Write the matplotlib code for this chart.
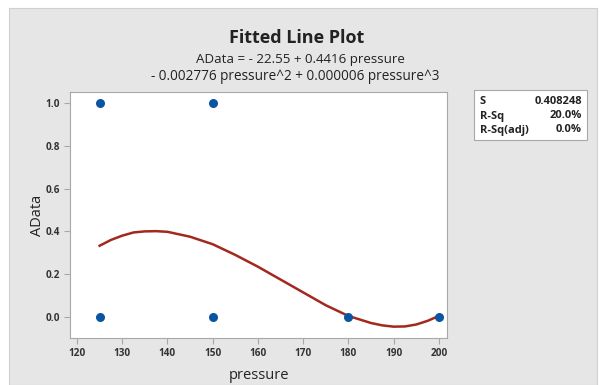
import matplotlib
matplotlib.use("Agg")
import matplotlib.pyplot as plt
from matplotlib.patches import Rectangle

# data points
pressure = [125, 125, 150, 150, 180, 200]
adata = [1.0, 0.0, 1.0, 0.0, 0.0, 0.0]

# fitted line
fit_x = [125, 127.5, 130, 132.5, 135, 137.5, 140, 145, 150, 155, 160, 165, 170, 175, 180,
         185, 187.5, 190, 192.5, 195, 197.5, 200]
fit_y = [0.333, 0.36, 0.38, 0.395, 0.40, 0.401, 0.398, 0.375, 0.34, 0.29, 0.235, 0.175,
         0.115, 0.055, 0.005, -0.028, -0.039, -0.045, -0.044, -0.035, -0.018, 0.005]

xticks = [120, 130, 140, 150, 160, 170, 180, 190, 200]
yticks = [0.0, 0.2, 0.4, 0.6, 0.8, 1.0]
ytick_labels = ["0.0", "0.2", "0.4", "0.6", "0.8", "1.0"]

stats_names = ["S", "R-Sq", "R-Sq(adj)"]
stats_vals = ["0.408248", "20.0%", "0.0%"]

plt.rcParams['font.family'] = ['Open Sans', 'DejaVu Sans']

W, H = 603, 385
fig = plt.figure(figsize=(W / 100, H / 100), dpi=100)
fig.patch.set_facecolor("white")

# gray panel
bg = Rectangle((9 / W, 0), (597 - 9) / W, (H - 8) / H, transform=fig.transFigure,
               facecolor="#e6e6e6", edgecolor="#cfcfcf", lw=0.8, zorder=-5)
fig.patches.append(bg)

ax = fig.add_axes([70 / W, 1 - 338 / H, (447 - 70) / W, (338 - 92) / H])
ax.set_zorder(2)
ax.set_facecolor("white")
ax.plot(fit_x, fit_y, color="#a3281e", lw=1.8, zorder=2)
ax.scatter(pressure, adata, s=30, color="#0a55a3", zorder=3)

ax.set_xlim(118.45, 201.8)
ax.set_ylim(-0.098, 1.051)
ax.set_xticks(xticks)
ax.set_yticks(yticks)
ax.set_yticklabels(ytick_labels)
for s in ax.spines.values():
    s.set_color("#a8a8a8")
ax.tick_params(colors="#a8a8a8", labelcolor="#333333", labelsize=7.2, length=4, pad=3)
for lab in ax.get_xticklabels() + ax.get_yticklabels():
    lab.set_fontweight("bold")
ax.set_xlabel("pressure", fontsize=10.5, color="#222222")
ax.set_ylabel("AData", fontsize=10.5, color="#222222")
ax.xaxis.set_label_coords(0.5, -0.12)
ax.yaxis.set_label_coords(-0.066, 0.5)

fig.text(297 / W, 1 - 38 / H, "Fitted Line Plot", ha="center", va="center", fontsize=13,
         fontweight="bold", color="#222222")
fig.text(300 / W, 1 - 59 / H, "AData = - 22.55 + 0.4416 pressure", ha="center", va="center",
         fontsize=9.6, color="#222222")
fig.text(295 / W, 1 - 76 / H, "- 0.002776 pressure^2 + 0.000006 pressure^3", ha="center", va="center",
         fontsize=9.8, color="#222222")

# stats box
fig.patches.append(Rectangle((474 / W, 1 - 140 / H), (587 - 474) / W, 50 / H, transform=fig.transFigure,
                             facecolor="white", edgecolor="#a8a8a8", lw=0.8, zorder=1))
for i, (n, v) in enumerate(zip(stats_names, stats_vals)):
    y = 1 - (102 + i * 14) / H
    fig.text(480 / W, y, n, ha="left", va="center", fontsize=8, color="#222222", fontweight="bold")
    fig.text(582 / W, y, v, ha="right", va="center", fontsize=8, color="#222222", fontweight="bold")

fig.savefig("out.png", dpi=100)
